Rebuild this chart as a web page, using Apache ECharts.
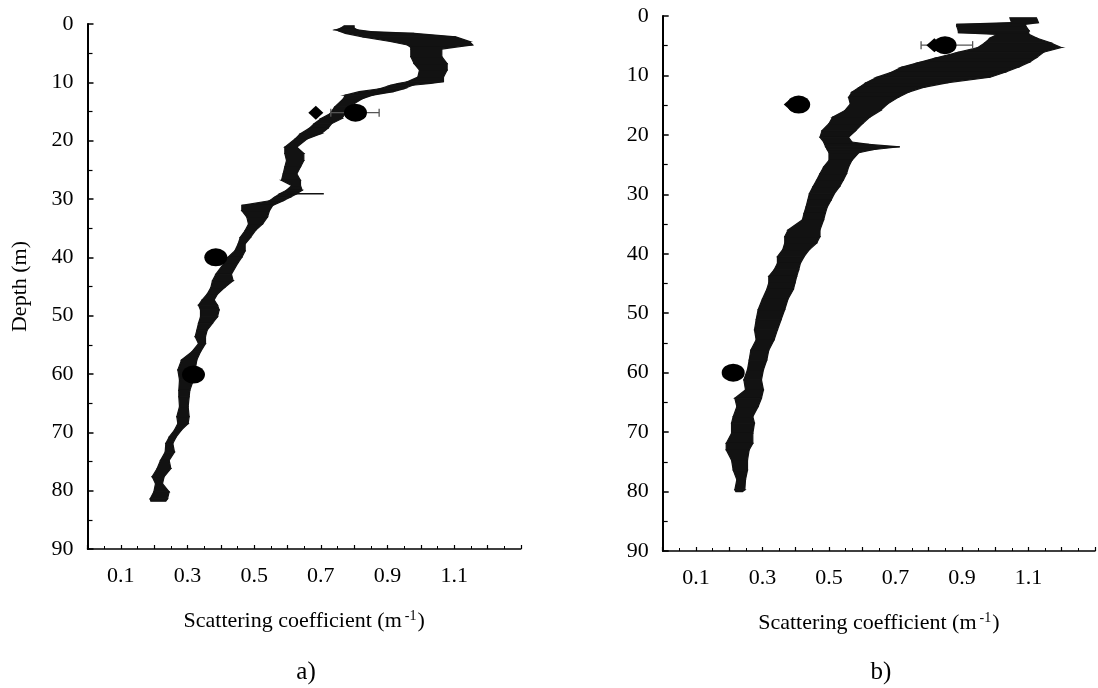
<!DOCTYPE html>
<html>
<head>
<meta charset="utf-8">
<script src="https://cdn.jsdelivr.net/npm/echarts@6/dist/echarts.min.js"></script>
<style>html,body{margin:0;padding:0;background:#fff}#c{width:1098px;height:688px}</style>
</head>
<body>
<div id="c"></div>
<script>
// ---------- data ----------
const xTickLabels = ['0.1', '0.3', '0.5', '0.7', '0.9', '1.1'];

// panel a) scattering profile band: depth (m), left edge, right edge
const aDepth = [0.3,0.7,1.0,1.3,1.6,2.2,3.0,3.6,4.0,4.3,5.6,6.8,7.9,9.1,9.9,10.2,10.5,11.1,11.6,12.2,12.8,14.2,15.4,16.2,17.1,17.9,18.8,19.7,21.1,22.2,23.4,24.5,25.7,26.8,27.7,28.5,29.1,29.7,30.3,31.1,32.0,33.1,34.3,35.4,36.6,37.7,38.9,40.0,40.9,42.9,44.0,45.2,46.3,47.3,48.2,49.0,50.2,51.3,52.5,53.6,54.8,56.2,57.6,59.3,61.0,62.8,63.9,65.6,67.3,68.5,69.6,70.8,71.9,73.4,74.8,76.2,77.6,78.8,80.2,81.4,81.8];
const aLeft  = [0.77,0.76,0.745,0.76,0.773,0.825,0.908,0.960,0.970,0.970,0.970,0.980,0.996,0.991,0.960,0.930,0.910,0.877,0.815,0.773,0.768,0.742,0.727,0.701,0.680,0.665,0.639,0.623,0.592,0.592,0.597,0.592,0.587,0.582,0.613,0.597,0.577,0.561,0.546,0.463,0.463,0.478,0.483,0.473,0.458,0.452,0.442,0.421,0.411,0.385,0.375,0.370,0.359,0.344,0.333,0.339,0.339,0.333,0.328,0.323,0.333,0.313,0.282,0.271,0.276,0.274,0.274,0.276,0.268,0.271,0.261,0.245,0.235,0.233,0.219,0.209,0.194,0.204,0.199,0.188,0.190];
const aRight = [0.80,0.80,0.81,0.85,0.980,1.105,1.146,1.156,1.100,1.063,1.063,1.079,1.079,1.068,1.068,1.030,0.975,0.949,0.918,0.856,0.825,0.784,0.773,0.763,0.732,0.721,0.701,0.659,0.628,0.649,0.649,0.639,0.628,0.639,0.639,0.644,0.628,0.608,0.587,0.556,0.546,0.540,0.525,0.504,0.489,0.473,0.473,0.463,0.452,0.432,0.437,0.411,0.390,0.380,0.390,0.395,0.390,0.375,0.359,0.354,0.354,0.339,0.328,0.323,0.318,0.307,0.305,0.302,0.305,0.302,0.282,0.266,0.256,0.261,0.245,0.250,0.230,0.225,0.245,0.240,0.235];
const aSpike = [[0.60, 29.1], [0.709, 29.1]];
const aCircles = [[0.804, 15.2], [0.385, 40.0], [0.318, 60.1]];
const aDiamonds = [[0.685, 15.2]];
const aErrors = [[0.730, 0.875, 15.2]];   // [low, high, depth]

// panel b)
const bDepth = [0.3,1.1,1.4,1.7,2.5,2.8,3.1,3.7,4.5,5.3,6.1,7.0,7.8,8.6,9.5,10.3,11.2,12.0,12.8,13.7,14.8,15.9,17.0,18.1,19.3,20.4,21.2,21.6,22.0,22.5,23.0,24.3,25.4,26.5,27.6,28.7,29.9,31.0,32.1,33.2,34.3,36.0,37.1,38.2,39.3,40.5,41.6,42.7,43.8,44.9,46.0,47.6,49.4,51.1,52.8,54.5,56.2,57.9,59.5,61.2,62.9,64.3,65.7,67.4,68.5,70.2,71.9,73.0,74.7,76.4,78.0,79.7,80.0];
const bLeft  = [1.044,1.049,0.884,0.884,0.889,0.889,1.006,0.985,0.969,0.948,0.889,0.825,0.772,0.719,0.687,0.644,0.612,0.591,0.569,0.559,0.564,0.548,0.511,0.500,0.479,0.473,0.484,0.487,0.490,0.495,0.500,0.500,0.484,0.473,0.463,0.452,0.441,0.436,0.431,0.425,0.420,0.377,0.367,0.367,0.361,0.345,0.345,0.335,0.319,0.319,0.313,0.300,0.287,0.281,0.276,0.281,0.265,0.260,0.255,0.244,0.249,0.217,0.223,0.212,0.207,0.207,0.191,0.191,0.207,0.212,0.223,0.217,0.220];
const bRight = [1.124,1.130,1.090,1.092,1.102,1.100,1.102,1.124,1.166,1.198,1.145,1.124,1.102,1.070,1.028,0.985,0.859,0.785,0.740,0.708,0.676,0.655,0.623,0.601,0.580,0.559,0.569,0.620,0.713,0.630,0.590,0.569,0.559,0.553,0.543,0.532,0.516,0.506,0.495,0.489,0.484,0.473,0.473,0.463,0.441,0.425,0.414,0.409,0.403,0.398,0.393,0.377,0.367,0.356,0.345,0.335,0.319,0.313,0.303,0.297,0.303,0.297,0.287,0.271,0.276,0.271,0.271,0.260,0.255,0.255,0.249,0.247,0.240];
const bCircles = [[0.849, 4.9], [0.409, 14.9], [0.212, 60.0]];
const bDiamonds = [[0.817, 4.9], [0.388, 14.9]];
const bErrors = [[0.777, 0.932, 4.9]];

// ---------- chart ----------
const FONT = 'Liberation Serif';
const BAND = '#121212';

function bandSeries(depth, left, right, idx) {
  const data = [];
  for (let i = 0; i < depth.length - 1; i++) {
    data.push([left[i], depth[i], right[i], depth[i + 1], left[i + 1], right[i + 1]]);
  }
  return {
    type: 'custom', xAxisIndex: idx, yAxisIndex: idx, silent: true, z: 2,
    data: data,
    encode: { x: [0, 2, 4, 5], y: [1, 3] },
    renderItem: function (params, api) {
      const p1 = api.coord([api.value(0), api.value(1)]);
      const p2 = api.coord([api.value(2), api.value(1)]);
      const p3 = api.coord([api.value(5), api.value(3)]);
      const p4 = api.coord([api.value(4), api.value(3)]);
      return { type: 'polygon', shape: { points: [p1, p2, p3, p4] },
        style: { fill: BAND, stroke: BAND, lineWidth: 1.2 } };
    }
  };
}

function errorSeries(data, idx) {
  return {
    type: 'custom', xAxisIndex: idx, yAxisIndex: idx, silent: true, z: 3,
    data: data, encode: { x: [0, 1], y: 2 },
    renderItem: function (params, api) {
      const a = api.coord([api.value(0), api.value(2)]);
      const b = api.coord([api.value(1), api.value(2)]);
      const st = { stroke: '#555', lineWidth: 1.3 };
      return { type: 'group', children: [
        { type: 'line', shape: { x1: a[0], y1: a[1], x2: b[0], y2: b[1] }, style: st },
        { type: 'line', shape: { x1: a[0], y1: a[1] - 4, x2: a[0], y2: a[1] + 4 }, style: st },
        { type: 'line', shape: { x1: b[0], y1: b[1] - 4, x2: b[0], y2: b[1] + 4 }, style: st }
      ] };
    }
  };
}

function xAxis(idx) {
  return {
    gridIndex: idx, type: 'value', min: 0, max: 1.3, interval: 0.1,
    position: 'bottom',
    axisLine: { show: true, onZero: false, lineStyle: { color: '#000', width: 1.5 } },
    axisTick: { show: true, inside: true, length: 4, lineStyle: { color: '#000', width: 1.2 } },
    minorTick: { show: true, splitNumber: 2, length: 3, lineStyle: { color: '#000', width: 1 } },
    splitLine: { show: false },
    axisLabel: {
      margin: 16, color: '#000', fontFamily: FONT, fontSize: 22,
      formatter: function (v) {
        const s = v.toFixed(1);
        return xTickLabels.indexOf(s) >= 0 ? s : '';
      }
    },
    name: 'Scattering coefficient (m{sup|-1})',
    nameLocation: 'middle', nameGap: 60,
    nameTextStyle: { color: '#000', fontFamily: FONT, fontSize: 22,
      rich: { sup: { fontSize: 14, fontFamily: FONT, color: '#000', verticalAlign: 'top', padding: [0, 1, 10, 3] } } }
  };
}

function yAxis(idx, withName) {
  const ax = {
    gridIndex: idx, type: 'value', min: 0, max: 90, interval: 10, inverse: true,
    axisLine: { show: true, onZero: false, lineStyle: { color: '#000', width: 2 } },
    axisTick: { show: true, inside: true, length: 6, lineStyle: { color: '#000', width: 1.5 } },
    minorTick: { show: true, splitNumber: 2, length: 5, lineStyle: { color: '#000', width: 1.2 } },
    splitLine: { show: false },
    axisLabel: { margin: 14, color: '#000', fontFamily: FONT, fontSize: 22 }
  };
  if (withName) {
    ax.name = 'Depth (m)';
    ax.nameLocation = 'middle';
    ax.nameGap = 56;
    ax.nameTextStyle = { color: '#000', fontFamily: FONT, fontSize: 22 };
  }
  return ax;
}

const chart = echarts.init(document.getElementById('c'));
chart.setOption({
  animation: false,
  backgroundColor: '#fff',
  grid: [
    { left: 87.5, top: 24, width: 433.3, height: 525, containLabel: false },
    { left: 662.7, top: 16, width: 433.3, height: 535, containLabel: false }
  ],
  xAxis: [xAxis(0), xAxis(1)],
  yAxis: [yAxis(0, true), yAxis(1, false)],
  graphic: [
    { type: 'text', x: 306, y: 672, style: { text: 'a)', font: '25px "Liberation Serif"', fill: '#000', textAlign: 'center', textVerticalAlign: 'middle' } },
    { type: 'text', x: 881, y: 672, style: { text: 'b)', font: '25px "Liberation Serif"', fill: '#000', textAlign: 'center', textVerticalAlign: 'middle' } }
  ],
  series: [
    bandSeries(aDepth, aLeft, aRight, 0),
    { type: 'line', xAxisIndex: 0, yAxisIndex: 0, data: aSpike, symbol: 'none', silent: true, z: 3,
      lineStyle: { color: '#111', width: 1.6 } },
    errorSeries(aErrors, 0),
    { type: 'scatter', xAxisIndex: 0, yAxisIndex: 0, data: aDiamonds, symbol: 'diamond', symbolSize: [15, 14],
      itemStyle: { color: '#000', opacity: 1 }, silent: true, z: 4 },
    { type: 'scatter', xAxisIndex: 0, yAxisIndex: 0, data: aCircles, symbol: 'circle', symbolSize: [23, 18],
      itemStyle: { color: '#000', opacity: 1 }, silent: true, z: 4 },

    bandSeries(bDepth, bLeft, bRight, 1),
    errorSeries(bErrors, 1),
    { type: 'scatter', xAxisIndex: 1, yAxisIndex: 1, data: bDiamonds, symbol: 'diamond', symbolSize: [16, 14],
      itemStyle: { color: '#000', opacity: 1 }, silent: true, z: 4 },
    { type: 'scatter', xAxisIndex: 1, yAxisIndex: 1, data: bCircles, symbol: 'circle', symbolSize: [23, 18],
      itemStyle: { color: '#000', opacity: 1 }, silent: true, z: 4 }
  ]
});
</script>
</body>
</html>
